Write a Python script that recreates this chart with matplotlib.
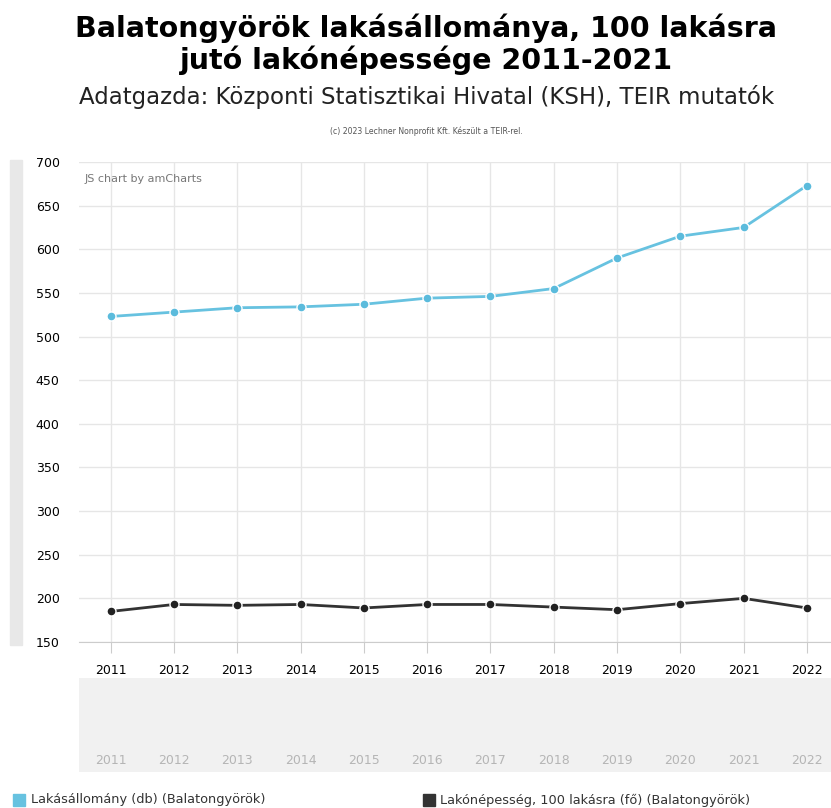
import matplotlib.pyplot as plt
from matplotlib.patches import Rectangle

years = ['2011', '2012', '2013', '2014', '2015', '2016',
         '2017', '2018', '2019', '2020', '2021', '2022']
lakasallomany = [523, 528, 533, 534, 537, 544, 546, 555, 590, 615, 625, 673]
lakonepesseg = [185, 193, 192, 193, 189, 193, 193, 190, 187, 194, 200, 189]

W, H = 831, 808
fig = plt.figure(figsize=(W / 100, H / 100), dpi=100)

def fx(px):
    return px / W

def fy(py):
    return 1 - py / H

# plot area: x 79..831, y 162..642
ax = fig.add_axes([fx(79), fy(642), fx(831 - 79), (642 - 162) / H])
x = list(range(len(years)))
ax.plot(x, lakasallomany, color='#67c2e0', lw=2, marker='o', ms=6.5,
        mfc='#5bbbdc', mec='white', mew=1, zorder=3, clip_on=False)
ax.plot(x, lakonepesseg, color='#333333', lw=2, marker='o', ms=6.5,
        mfc='#222222', mec='white', mew=1, zorder=3, clip_on=False)

ax.set_xlim(-0.5, 11.38)
ax.set_ylim(150, 700)
ax.set_yticks(range(150, 701, 50))
ax.set_xticks(x)
ax.set_xticklabels(years)
ax.grid(True, color='#e6e6e6', lw=1)
ax.set_axisbelow(True)
for s in ['top', 'right', 'left']:
    ax.spines[s].set_visible(False)
ax.spines['bottom'].set_color('#cccccc')
ax.tick_params(axis='y', length=0, labelsize=9, colors='#000000', pad=14)
ax.tick_params(axis='x', length=8, color='#cccccc', labelsize=9, pad=8)
ax.text(0.008, 0.975, 'JS chart by amCharts', transform=ax.transAxes,
        fontsize=8, color='#777777', va='top')

# gray bar on the left
fig.patches.append(Rectangle((fx(10), fy(645)), fx(12), (645 - 160) / H,
                             transform=fig.transFigure, color='#e8e8e8'))

# scrollbar area
sax = fig.add_axes([fx(79), fy(772), fx(831 - 79), (772 - 678) / H])
sax.set_facecolor('#f1f1f1')
sax.set_xlim(-0.5, 11.38)
sax.set_ylim(0, 1)
for s in sax.spines.values():
    s.set_visible(False)
sax.set_xticks([])
sax.set_yticks([])
for i, yr in enumerate(years):
    sax.text(i, 0.12, yr, ha='center', va='center', fontsize=9, color='#b5b5b5')

# titles
fig.text(0.513, fy(28), 'Balatongyörök lakásállománya, 100 lakásra',
         ha='center', va='center', fontsize=20.5, fontweight='bold')
fig.text(0.513, fy(60), 'jutó lakónépessége 2011-2021',
         ha='center', va='center', fontsize=20.5, fontweight='bold')
fig.text(0.513, fy(97), 'Adatgazda: Központi Statisztikai Hivatal (KSH), TEIR mutatók',
         ha='center', va='center', fontsize=16.5, color='#222222')
fig.text(0.513, fy(131), '(c) 2023 Lechner Nonprofit Kft. Készült a TEIR-rel.',
         ha='center', va='center', fontsize=5.6, color='#555555')

# legend
fig.patches.append(Rectangle((fx(13), fy(806)), fx(12), 12 / H,
                             transform=fig.transFigure, color='#67c2e0'))
fig.text(fx(31), fy(800), 'Lakásállomány (db) (Balatongyörök)',
         va='center', fontsize=9.3, color='#333333')
fig.patches.append(Rectangle((fx(423), fy(806)), fx(12), 12 / H,
                             transform=fig.transFigure, color='#333333'))
fig.text(fx(440), fy(800), 'Lakónépesség, 100 lakásra (fő) (Balatongyörök)',
         va='center', fontsize=9.3, color='#333333')

fig.savefig('out.png', dpi=100)
